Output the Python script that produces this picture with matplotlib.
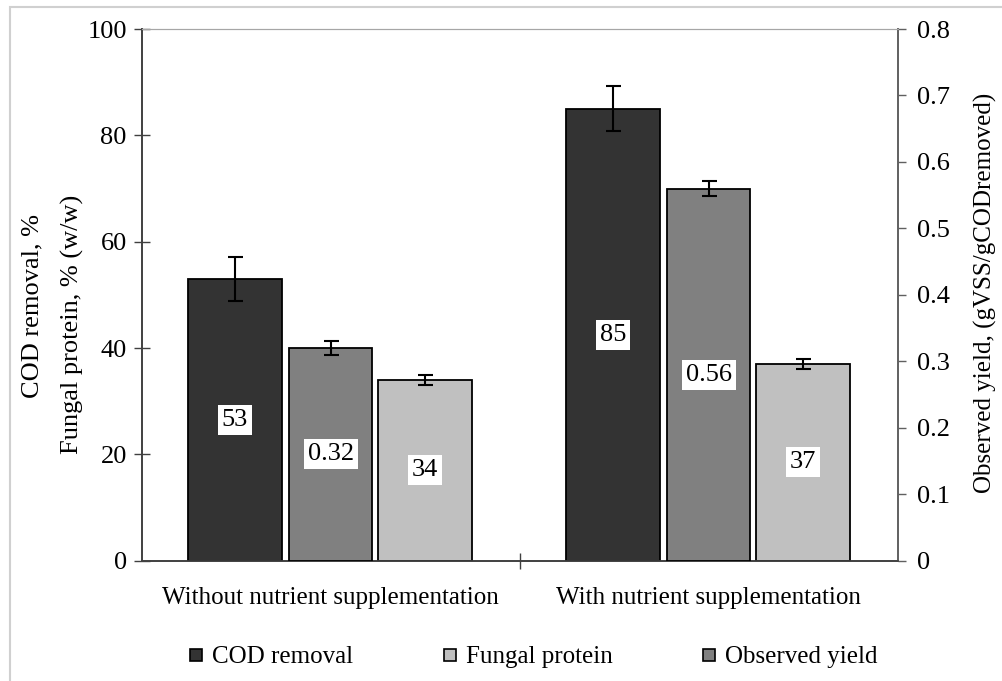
import matplotlib
matplotlib.use("Agg")
import matplotlib.pyplot as plt
from matplotlib.lines import Line2D
from matplotlib.patches import Rectangle
import numpy as np

plt.rcParams['font.family'] = ['Liberation Serif', 'DejaVu Serif']

categories = ["Without nutrient supplementation", "With nutrient supplementation"]
cod_removal = [53, 85]
cod_err = [4.1, 4.2]
fungal_protein = [34, 37]
protein_err = [1.0, 1.0]
observed_yield = [0.32, 0.56]
yield_err = [0.011, 0.011]

FS = 18
FT = 19
fig = plt.figure(figsize=(10.03, 6.81), dpi=100)
fig.add_artist(Rectangle((10/1003, -0.05), 1.2, 1 - 7/681 + 0.05, transform=fig.transFigure,
                         fill=False, edgecolor='#d0d0d0', linewidth=1.5))
ax = fig.add_axes([141.7/1003, (681-560.7)/681, (897.7-141.7)/1003, (560.7-29)/681])
ax2 = ax.twinx()

x = np.arange(len(categories)) + 0.5
ekw = dict(elinewidth=1.5, capthick=1.5, ecolor='black')
b1 = ax.bar(x - 0.2535, cod_removal, 0.249, color='#333333', edgecolor='black', linewidth=1.3,
            yerr=cod_err, capsize=5.4, error_kw=ekw, zorder=3)
b3 = ax.bar(x + 0.25, fungal_protein, 0.249, color='#c0c0c0', edgecolor='black', linewidth=1.3,
            yerr=protein_err, capsize=5.4, error_kw=ekw, zorder=3)
b2 = ax2.bar(x, observed_yield, 0.218, color='#808080', edgecolor='black', linewidth=1.3,
             yerr=yield_err, capsize=5.4, error_kw=ekw, zorder=3)

box = dict(boxstyle='square,pad=0.15', facecolor='white', edgecolor='none')
for xi, v in zip(x - 0.2535, cod_removal):
    ax.text(xi, v / 2, f"{v}", ha='center', va='center', fontsize=FT, bbox=box, zorder=5)
for xi, v in zip(x + 0.25, fungal_protein):
    ax.text(xi, v / 2, f"{v}", ha='center', va='center', fontsize=FT, bbox=box, zorder=5)
for xi, v in zip(x, observed_yield):
    ax2.text(xi, v / 2, f"{v:.2f}", ha='center', va='center', fontsize=FT, bbox=box, zorder=5)

ax.set_xlim(0, 2)
ax.set_ylim(0, 100)
ax2.set_ylim(0, 0.8)
ax.set_yticks(np.arange(0, 101, 20))
ax2.set_yticks(np.round(np.arange(0, 0.81, 0.1), 1))
ax2.set_yticklabels(["0"] + [f"{t:.1f}" for t in np.arange(0.1, 0.81, 0.1)])
ax.set_xticks(x)
ax.set_xticklabels(categories, fontsize=FS)
ax.set_xticks([1], minor=True)
ax.tick_params(axis='x', which='major', length=0, pad=19)
ax.tick_params(axis='x', which='minor', direction='inout', length=11.5, width=1, color='#404040')
ax.tick_params(axis='y', direction='inout', length=11.5, width=1, color='#404040', pad=5, labelsize=FT)
ax2.tick_params(axis='y', direction='out', length=5.8, width=1, color='#606060', pad=8, labelsize=FT)

for a in (ax, ax2):
    a.spines['top'].set_color('#a6a6a6')
    a.spines['left'].set_color('#404040')
    a.spines['right'].set_color('#606060')
    a.spines['bottom'].set_color('#404040')
    a.spines['left'].set_linewidth(1.2)
    a.spines['right'].set_linewidth(1.2)
    a.spines['bottom'].set_linewidth(1.2)

fig.text(32/1003, 1 - 306/681, "COD removal, %", rotation=90, ha='center', va='center', fontsize=FT)
fig.text(72/1003, 1 - 324/681, "Fungal protein, % (w/w)", rotation=90, ha='center', va='center', fontsize=FT)
fig.text(985/1003, 1 - 293/681, "Observed yield, (gVSS/gCODremoved)", rotation=90, ha='center', va='center', fontsize=FS)

handles = [Line2D([], [], ls='none', marker='s', markersize=8.6, markerfacecolor=c,
                  markeredgecolor='black', markeredgewidth=1.2)
           for c in ('#333333', '#c0c0c0', '#808080')]
fig.legend(handles, ["COD removal", "Fungal protein", "Observed yield"], ncol=3,
           loc='center', bbox_to_anchor=(0.531, 1 - 657/681), frameon=False, fontsize=FS,
           handlelength=0.7, handletextpad=0.3, columnspacing=3.5)

fig.savefig("out.png", dpi=100)
